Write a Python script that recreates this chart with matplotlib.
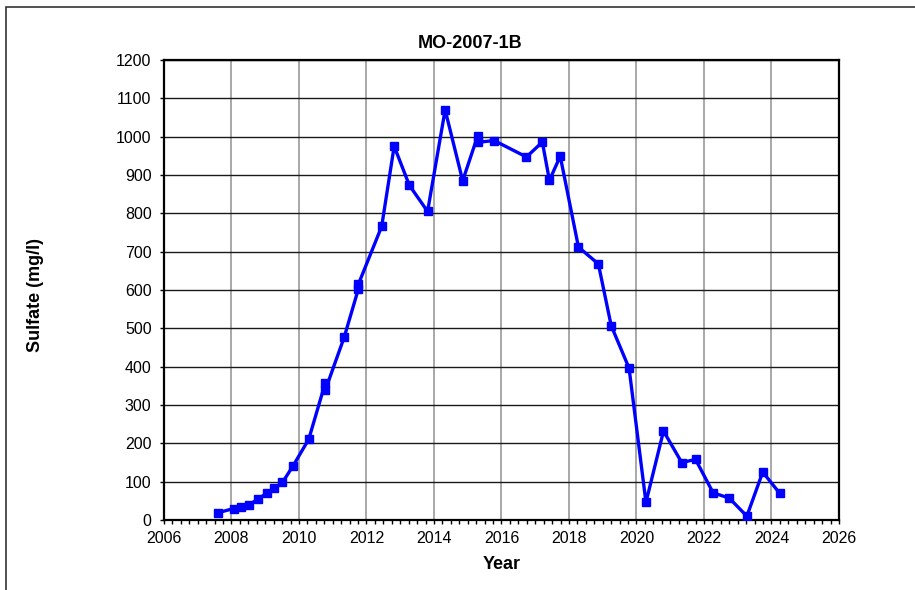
import matplotlib
matplotlib.use("Agg")
import matplotlib.pyplot as plt
from matplotlib.ticker import MultipleLocator
from matplotlib.patches import Rectangle

plt.rcParams['font.family'] = ['Liberation Sans', 'DejaVu Sans']

# sampling dates (decimal year) and sulfate (mg/l)
years = [2007.60, 2008.07, 2008.28, 2008.52, 2008.80, 2009.04, 2009.27, 2009.51,
         2009.83, 2010.29, 2010.78, 2010.78, 2011.34, 2011.76, 2011.76, 2012.45,
         2012.82, 2013.27, 2013.81, 2014.33, 2014.85, 2015.29, 2015.29, 2015.78,
         2016.74, 2017.21, 2017.42, 2017.74, 2018.28, 2018.87, 2019.25, 2019.78,
         2020.28, 2020.80, 2021.34, 2021.75, 2022.27, 2022.75, 2023.27, 2023.74,
         2024.24]
sulfate = [19, 30, 35, 40, 55, 70, 83, 98,
           142, 211, 358, 339, 477, 603, 615, 766,
           975, 873, 805, 1070, 885, 1001, 985, 990,
           947, 986, 886, 949, 712, 668, 507, 396,
           46, 232, 150, 158, 71, 57, 10, 125,
           70]

fig = plt.figure(figsize=(9.15, 5.9), dpi=100)
ax = fig.add_axes([164 / 915, 1 - 520 / 590, 675 / 915, 460 / 590])

# outer chart border
fig.patches.append(Rectangle((6 / 915, -0.1), 1.2, 1 - 7 / 590 + 0.1,
                             transform=fig.transFigure, fill=False,
                             edgecolor='#333333', linewidth=1.2))

ax.plot(years, sulfate, color='#0000FF', linewidth=2.4, marker='s',
        markersize=6, markeredgecolor='#0000FF', zorder=3)

ax.set_xlim(2006, 2026)
ax.set_ylim(0, 1200)
ax.xaxis.set_major_locator(MultipleLocator(2))
ax.xaxis.set_minor_locator(MultipleLocator(0.25))
ax.yaxis.set_major_locator(MultipleLocator(100))

ax.grid(axis='x', which='major', color='#999999', linewidth=1.2)
ax.grid(axis='y', which='major', color='#1a1a1a', linewidth=1.0)
ax.set_axisbelow(True)

for s in ax.spines.values():
    s.set_linewidth(1.6)
    s.set_color('black')

ax.tick_params(axis='x', which='major', direction='out', length=3, width=1,
               labelsize=11.5, pad=5)
ax.tick_params(axis='y', which='major', direction='out', length=3, width=1,
               labelsize=11.5, pad=6)
ax.tick_params(axis='x', which='minor', direction='out', length=3, width=1)

# title sits centred on the whole chart area, not on the plot box
ax.set_title('MO-2007-1B', fontsize=13, fontweight='bold', pad=9, x=0.453)
ax.set_xlabel('Year', fontsize=13, fontweight='bold')
ax.set_ylabel('Sulfate (mg/l)', fontsize=13, fontweight='bold')
ax.xaxis.set_label_coords(0.5, -0.078)
ax.yaxis.set_label_coords(-0.178, 0.49)

fig.savefig('out.png', dpi=100)
